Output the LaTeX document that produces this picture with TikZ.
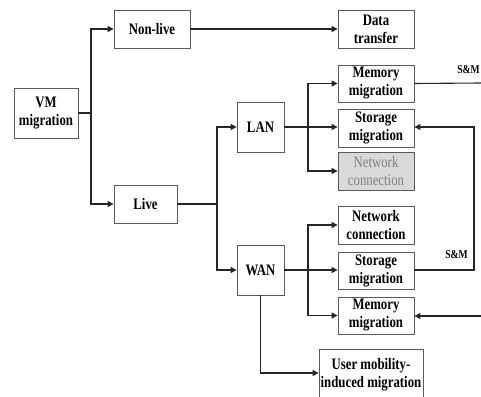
\documentclass[tikz,border=0pt]{standalone}
\usepackage{fontspec}
\setmainfont{Liberation Serif}[FakeStretch=0.8]
\usetikzlibrary{arrows.meta}
\begin{document}
\begin{tikzpicture}[x=1pt,y=1pt,
  box/.style={draw=black!65, line width=0.8pt, fill=white, align=center, inner sep=0pt,
    font=\bfseries\fontsize{16}{18}\selectfont},
  graybox/.style={box, fill=black!15, text=black!50, font=\fontsize{16}{18}\selectfont},
  conn/.style={line width=1.1pt, black!85},
  arr/.style={conn, -{Triangle[length=6pt,width=6pt]}},
  sm/.style={font=\bfseries\fontsize{12}{14}\selectfont, inner sep=0pt}]
\clip (0,0) rectangle (481,-396);
\fill[white] (0,0) rectangle (481,-396);
% nodes
\node[box, minimum width=64, minimum height=50] (vm) at (46,-113) {VM\\migration};
\node[box, minimum width=76, minimum height=38] (nonlive) at (152,-29) {Non-live};
\node[box, minimum width=63, minimum height=38] (live) at (145.5,-204) {Live};
\node[box, minimum width=76, minimum height=38] (data) at (376,-29) {Data\\transfer};
\node[box, minimum width=47, minimum height=50] (lan) at (260.5,-127) {LAN};
\node[box, minimum width=47, minimum height=50] (wan) at (260.5,-270) {WAN};
\node[box, minimum width=76, minimum height=37] (lmem) at (376,-83.5) {Memory\\migration};
\node[box, minimum width=76, minimum height=38] (lsto) at (376,-128) {Storage\\migration};
\node[graybox, minimum width=76, minimum height=38] (lnet) at (376,-171) {Network\\connection};
\node[box, minimum width=76, minimum height=38] (wnet) at (376,-225) {Network\\connection};
\node[box, minimum width=76, minimum height=37] (wsto) at (376,-270.5) {Storage\\migration};
\node[box, minimum width=76, minimum height=37] (wmem) at (376,-315.5) {Memory\\migration};
\node[box, minimum width=104, minimum height=52] (user) at (371,-375) {User mobility-\\induced migration};
\node[sm, anchor=east] (sm1) at (480,-70) {S\&M};
\node[sm] (sm2) at (456.5,-255) {S\&M};
% junctions
\coordinate (j1) at (91,-113);
\coordinate (j2) at (217,-204);
\coordinate (j3) at (308,-127);
\coordinate (j4) at (308,-270);
\coordinate (r1) at (481,-83);
\coordinate (r2) at (474,-270);
\coordinate (r3) at (474,-127);
\coordinate (r4) at (481,-316);
\coordinate (u1) at (260.5,-373);
% connectors
\draw[conn] (vm.east) -- (j1);
\draw[arr] (j1) |- (nonlive.west);
\draw[arr] (j1) |- (live.west);
\draw[arr] (nonlive.east) -- (data.west);
\draw[conn] (live.east) -- (j2);
\draw[arr] (j2) |- (lan.west);
\draw[arr] (j2) |- (wan.west);
\draw[conn] (lan.east) -- (j3);
\draw[arr] (j3) |- (lmem.west);
\draw[arr] (j3) -- (lsto.west |- j3);
\draw[arr] (j3) |- (lnet.west);
\draw[conn] (wan.east) -- (j4);
\draw[arr] (j4) |- (wnet.west);
\draw[arr] (j4) -- (wsto.west |- j4);
\draw[arr] (j4) |- (wmem.west);
\draw[conn] (lmem.east) -- (r1);
\draw[arr] (wsto.east |- r2) -- (r2) -- (r3) -- (lsto.east |- r3);
\draw[arr] (r4) -- (wmem.east |- r4);
\draw[arr] (wan.south) -- (u1) -- (user.west |- u1);
\end{tikzpicture}
\end{document}
